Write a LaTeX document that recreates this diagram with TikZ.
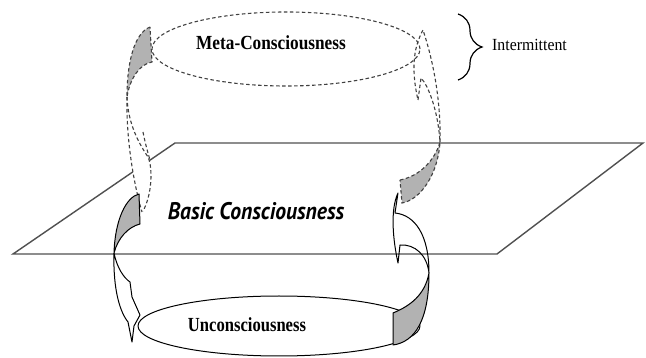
\documentclass[tikz,border=0pt]{standalone}
\usepackage{fontspec}
\setmainfont{Liberation Serif}
\newfontfamily\basicfont{PT Sans}
\usepackage{tikz}
\usetikzlibrary{decorations.pathreplacing,shapes.geometric}
\definecolor{ribGray}{RGB}{178,178,178}
\definecolor{planeGray}{RGB}{80,80,80}

\begin{document}
\begin{tikzpicture}[x=1pt,y=-1pt,
  plane/.style={draw=planeGray,line width=1.4pt},
  ribbon/.style={draw=black,line width=1pt,line join=round},
  hidden/.style={draw=black!75,line width=1.1pt,dash pattern=on 3.5pt off 2.5pt},
  lbl/.style={font=\bfseries\fontsize{20}{22}\selectfont,xscale=0.83,inner sep=0pt}]
  \useasboundingbox (0,0) rectangle (646,358);
  % plane (basic level)
  \draw[plane] (13,254) -- (175,143) -- (643,143) -- (497,254) -- cycle;
  \node[font=\basicfont\bfseries\itshape\fontsize{24}{26}\selectfont,xscale=0.9,inner sep=0pt] (basic) at (256,211) {Basic Consciousness};
  % rings
  \node[ellipse,hidden,minimum width=268pt,minimum height=74pt,inner sep=0pt] (metaring) at (286,49) {};
  \node[ellipse,ribbon,minimum width=282pt,minimum height=60pt,inner sep=0pt] (unconring) at (279,326) {};
  % left ribbon, upper (hidden) part
  \fill[white] (127,97) .. controls (126,140) and (134,185) .. (142,212)
    -- (143,211) .. controls (152,195) and (153,168) .. (148,157)
    .. controls (140,145) and (128,125) .. (127,97);
  \draw[hidden] (127,97) .. controls (126,140) and (134,185) .. (142,212);
  \draw[hidden] (127,97) .. controls (128,125) and (140,145) .. (148,157)
    .. controls (153,168) and (152,195) .. (143,211);
  \draw[hidden] (143,132) .. controls (145,142) and (147,150) .. (150,160);
  \filldraw[fill=ribGray,hidden] (150,27) .. controls (135,33) and (127,60) .. (127,97)
    .. controls (130,78) and (140,64) .. (152,62) -- cycle;
  % left ribbon, lower part
  \filldraw[fill=ribGray,ribbon] (139,194) .. controls (126,197) and (115,220) .. (114,253)
    .. controls (118,238) and (128,227) .. (140,224) -- cycle;
  \draw[ribbon] (114,253) .. controls (113,290) and (120,312) .. (128,322) -- (132,342)
    -- (134,326) -- (140,315) -- (132,297) -- (130,282)
    .. controls (124,278) and (117,268) .. (114,253);
  % right ribbon, lower part
  \filldraw[fill=ribGray,ribbon] (393,313) -- (393,345) .. controls (415,342) and (429,320) .. (429,273)
    .. controls (425,295) and (410,306) .. (393,313) -- cycle;
  \draw[ribbon] (429,273) .. controls (429,235) and (415,215) .. (395,213) -- (398,193)
    .. controls (390,210) and (393,240) .. (398,263) -- (400,245)
    .. controls (415,244) and (427,255) .. (429,273);
  % right ribbon, upper (hidden) part
  \filldraw[fill=ribGray,hidden] (400,180) .. controls (420,176) and (435,160) .. (440,142)
    .. controls (438,175) and (420,200) .. (402,203) -- cycle;
  \draw[hidden] (440,142) .. controls (441,100) and (433,60) .. (423,30)
    .. controls (415,45) and (410,65) .. (418,100);
  \draw[hidden] (418,100) -- (421,78) .. controls (428,85) and (438,110) .. (440,142);
  % labels
  \node[lbl,xscale=1.04] (meta) at (271,43) {Meta-Consciousness};
  \node[lbl] (uncon) at (247,325) {Unconsciousness};
  % brace
  \coordinate (braceTop) at (458,14);
  \coordinate (braceBot) at (458,80);
  \draw[line width=1.2pt,decorate,decoration={brace,amplitude=24pt}] (braceTop) -- (braceBot);
  \node[anchor=west,font=\fontsize{17}{19}\selectfont,xscale=0.93,inner sep=0pt] (intermit) at (492,45) {Intermittent};
\end{tikzpicture}
\end{document}
